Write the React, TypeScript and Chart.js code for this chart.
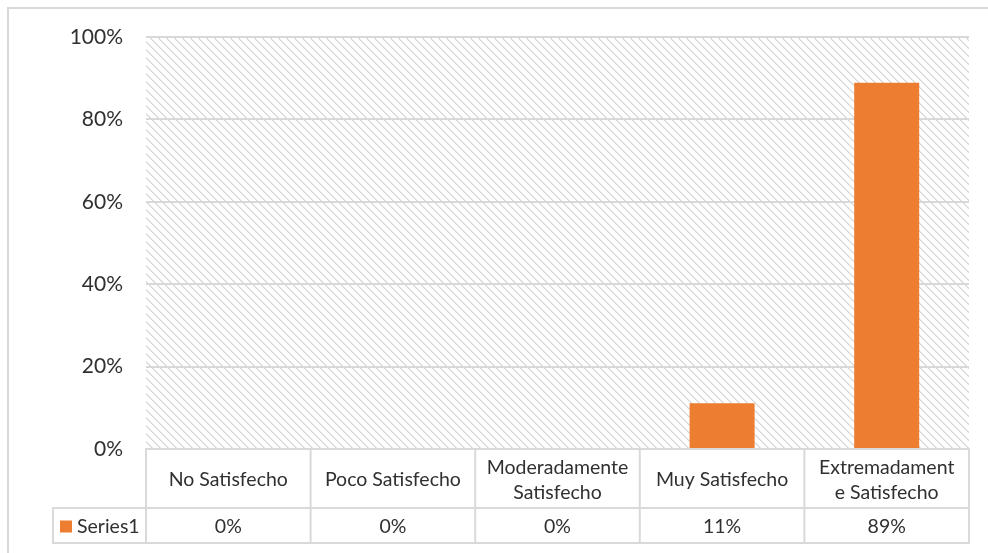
import React, { useEffect, useRef } from "react";
import { Chart, registerables } from "chart.js";

Chart.register(...registerables);

// ---- data ----
const categories = [
  "No Satisfecho",
  "Poco Satisfecho",
  "Moderadamente Satisfecho",
  "Muy Satisfecho",
  "Extremadamente Satisfecho",
];
// how the category names are wrapped in the data table header
const categoryLines = [
  ["No Satisfecho"],
  ["Poco Satisfecho"],
  ["Moderadamente", "Satisfecho"],
  ["Muy Satisfecho"],
  ["Extremadament", "e Satisfecho"],
];
const seriesName = "Series1";
const seriesValues = [0, 0, 0, 0.111, 0.889];
const tableValueLabels = ["0%", "0%", "0%", "11%", "89%"];
const yMin = 0;
const yMax = 1;
const yStep = 0.2;

const ORANGE = "#ED7D31";
const LINE = "#d9d9d9";
const TEXT = "#303030";
const FONT = "Lato, 'Open Sans', sans-serif";

function makeHatch(ctx: CanvasRenderingContext2D) {
  const c = document.createElement("canvas");
  c.width = 8;
  c.height = 8;
  const g = c.getContext("2d")!;
  const img = g.createImageData(8, 8);
  for (let y = 0; y < 8; y++) {
    for (let x = 0; x < 8; x++) {
      const i = (y * 8 + x) * 4;
      const d = (x - y + 16) % 8;
      const v = d === 0 ? 0xd6 : d === 1 ? 0xe4 : 0xff;
      img.data[i] = v;
      img.data[i + 1] = v;
      img.data[i + 2] = v;
      img.data[i + 3] = 255;
    }
  }
  g.putImageData(img, 0, 0);
  return ctx.createPattern(c, "repeat");
}

const framePlugin = {
  id: "frameAndHatch",
  beforeDraw(chart: any) {
    const ctx = chart.ctx as CanvasRenderingContext2D;
    const { left, top, right, bottom } = chart.chartArea;
    ctx.save();
    ctx.fillStyle = "#ffffff";
    ctx.fillRect(0, 0, chart.width, chart.height);
    ctx.strokeStyle = LINE;
    ctx.lineWidth = 2;
    ctx.strokeRect(8, 8, chart.width + 40, chart.height + 40);
    const pat = makeHatch(ctx);
    if (pat) {
      ctx.fillStyle = pat;
      ctx.fillRect(left, top, right - left, bottom - top);
    }
    ctx.restore();
  },
};

const tablePlugin = {
  id: "dataTable",
  afterDraw(chart: any) {
    const ctx = chart.ctx as CanvasRenderingContext2D;
    const { left, right, bottom } = chart.chartArea;
    const xs = chart.scales.x;
    const n = categories.length;
    const colW = (right - left) / n;
    const headerBottom = bottom + 59;
    const rowBottom = headerBottom + 35;
    const legendLeft = 53;

    ctx.save();
    ctx.strokeStyle = LINE;
    ctx.lineWidth = 2;
    const line = (x1: number, y1: number, x2: number, y2: number) => {
      ctx.beginPath();
      ctx.moveTo(x1, y1);
      ctx.lineTo(x2, y2);
      ctx.stroke();
    };
    line(left, bottom, right, bottom);
    line(legendLeft - 1, headerBottom, right + 1, headerBottom);
    line(legendLeft - 1, rowBottom, right + 1, rowBottom);
    line(legendLeft, headerBottom, legendLeft, rowBottom);
    for (let i = 0; i <= n; i++) {
      const x = i < n ? xs.getPixelForValue(i) - colW / 2 : xs.getPixelForValue(n - 1) + colW / 2;
      line(x, bottom - 1, x, rowBottom + 1);
    }

    ctx.fillStyle = TEXT;
    ctx.font = `19.5px ${FONT}`;
    ctx.textAlign = "center";
    ctx.textBaseline = "middle";
    const headMid = (bottom + headerBottom) / 2 + 1.5;
    const lh = 25.5;
    categoryLines.forEach((lines, i) => {
      const cx = xs.getPixelForValue(i);
      const y0 = headMid - ((lines.length - 1) * lh) / 2;
      lines.forEach((t, j) => ctx.fillText(t, cx, y0 + j * lh));
    });

    const rowMid = (headerBottom + rowBottom) / 2 + 1.5;
    tableValueLabels.forEach((t, i) => {
      ctx.fillText(t, xs.getPixelForValue(i), rowMid);
    });

    // legend key
    ctx.fillStyle = ORANGE;
    ctx.fillRect(60, rowMid - 6.5, 12, 12);
    ctx.fillStyle = TEXT;
    ctx.textAlign = "left";
    ctx.fillText(seriesName, 77, rowMid);
    ctx.restore();
  },
};

export default function App() {
  const ref = useRef<HTMLCanvasElement | null>(null);

  useEffect(() => {
    if (!ref.current) return;
    const chart = new Chart(ref.current, {
      type: "bar",
      data: {
        labels: categories,
        datasets: [
          {
            label: seriesName,
            data: seriesValues,
            backgroundColor: ORANGE,
            borderWidth: 0,
            barPercentage: 0.395,
            categoryPercentage: 1,
          },
        ],
      },
      options: {
        animation: false,
        responsive: false,
        devicePixelRatio: 1,
        layout: { padding: { left: 0, top: 37, right: 19, bottom: 104 } },
        plugins: {
          legend: { display: false },
          tooltip: { enabled: false },
        },
        scales: {
          x: { display: false },
          y: {
            min: yMin,
            max: yMax,
            afterFit(scale: any) {
              scale.width = 146;
            },
            ticks: {
              stepSize: yStep,
              padding: 23,
              color: TEXT,
              font: { family: FONT, size: 21 },
              callback: (v: any) => Math.round(Number(v) * 100) + "%",
            },
            grid: { color: LINE, lineWidth: 2, drawTicks: false },
            border: { display: false },
          },
        },
      },
      plugins: [framePlugin, tablePlugin],
    });
    return () => chart.destroy();
  }, []);

  return (
    <div style={{ position: "absolute", left: 0, top: 0, width: 988, height: 553 }}>
      <canvas ref={ref} width={988} height={553} style={{ display: "block" }} />
    </div>
  );
}
